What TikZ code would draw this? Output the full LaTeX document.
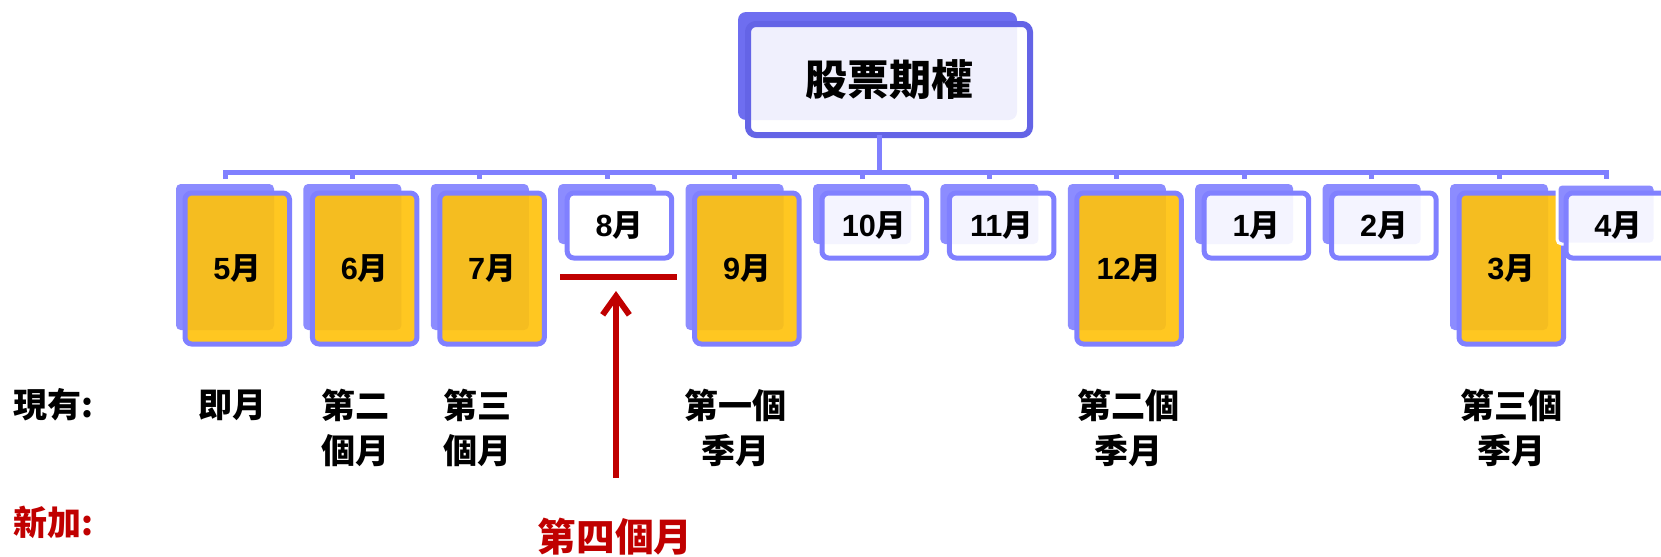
\documentclass[tikz,border=0pt]{standalone}
\usepackage{fontspec}
\setmainfont{Liberation Sans}
\newfontfamily\cjk{Noto Sans CJK TC}
\usetikzlibrary{arrows.meta}
\definecolor{lav}{RGB}{128,128,255}
\definecolor{lavback}{RGB}{140,140,255}
\definecolor{topline}{RGB}{100,100,230}
\definecolor{topback}{RGB}{110,110,240}
\definecolor{gold}{RGB}{255,194,14}
\definecolor{redc}{RGB}{192,0,0}
\newcommand{\yue}{{\cjk 月}}
\newcommand{\mymonthfont}{\bfseries\fontsize{23pt}{27pt}\selectfont}
\newcommand{\mylabelfont}{\cjk\bfseries\fontsize{25.5pt}{33.75pt}\selectfont}
\begin{document}
\begin{tikzpicture}[x=0.75pt,y=-0.75pt,
  backbox/.style={fill=lavback, rounded corners=3.5pt, inner sep=0pt, outer sep=0pt, anchor=north west, minimum width=73.5pt},
  tallback/.style={backbox, minimum height=109.5pt},
  shortback/.style={backbox, minimum height=45pt},
  frontbox/.style={draw=lav, line width=3.75pt, rounded corners=5pt, inner sep=0pt, outer sep=0pt, anchor=north west, minimum width=78.4pt, text=black, font=\mymonthfont},
  tallfront/.style={frontbox, minimum height=113.25pt, fill=gold, fill opacity=0.92, text opacity=1},
  shortfront/.style={frontbox, minimum height=48.75pt, fill=white, fill opacity=0.91, text opacity=1},
  whitefront/.style={frontbox, minimum height=48.75pt, fill=white},
  conn/.style={draw=lav, line width=3.75pt},
  lbl/.style={font=\mylabelfont, align=center, inner sep=0pt, text=black},
  redlbl/.style={lbl, text=redc}
]
\useasboundingbox (0,0) rectangle (1661,557);
\clip (0,0) rectangle (1661,557);

% top box
\node[fill=topback, rounded corners=6pt, inner sep=0pt, outer sep=0pt, anchor=north west, minimum width=209.25pt, minimum height=81pt] (tb) at (738,12) {};
\node[draw=topline, line width=4.5pt, fill=white, fill opacity=0.9, text opacity=1, rounded corners=6pt, inner sep=0pt, outer sep=0pt, anchor=north west, minimum width=211.5pt, minimum height=83.25pt, font=\cjk\bfseries\fontsize{31.5pt}{36pt}\selectfont] (tf) at (748,24) {股票期權};

% month boxes
\node[tallback] (b1) at (176,184) {};
\node[tallfront] (f1) at (185,193) {5\yue};
\node[tallback] (b2) at (303.4,184) {};
\node[tallfront] (f2) at (312.4,193) {6\yue};
\node[tallback] (b3) at (430.8,184) {};
\node[tallfront] (f3) at (439.8,193) {7\yue};
\node[shortback] (b4) at (558.2,184) {};
\node[whitefront] (f4) at (567.2,193) {8\yue};
\node[tallback] (b5) at (685.6,184) {};
\node[tallfront] (f5) at (694.6,193) {9\yue};
\node[shortback] (b6) at (813,184) {};
\node[shortfront] (f6) at (822,193) {10\yue};
\node[shortback] (b7) at (940.4,184) {};
\node[shortfront] (f7) at (949.4,193) {11\yue};
\node[tallback] (b8) at (1067.8,184) {};
\node[tallfront] (f8) at (1076.8,193) {12\yue};
\node[shortback] (b9) at (1195.2,184) {};
\node[shortfront] (f9) at (1204.2,193) {1\yue};
\node[shortback] (b10) at (1322.6,184) {};
\node[shortfront] (f10) at (1331.6,193) {2\yue};
\node[tallback] (b11) at (1450,184) {};
\node[tallfront] (f11) at (1459,193) {3\yue};
\node[shortback, draw=white, line width=2.25pt] (b12) at (1557,184) {};
\node[shortfront] (f12) at (1566,193) {4\yue};

% connectors
\coordinate (bus) at (879,172);
\draw[conn] (bus |- tf.south) -- (bus);
\draw[conn] ([yshift=3.75pt]b1.north) |- (bus) -| ([yshift=3.75pt]b12.north);
\foreach \k in {2,...,11} \draw[conn] ([yshift=3.75pt]b\k.north) -- (b\k.north |- bus);

% red marker and arrow
\coordinate (rl1) at (560,277);
\coordinate (rl2) at (677,277);
\draw[redc, line width=4.5pt] (rl1) -- (rl2);
\coordinate (arrtip) at (616,291);
\coordinate (arrbot) at (616,478);
\draw[redc, line width=4.5pt, -{Straight Barb[length=14pt, width=20pt]}] (arrbot) -- (arrtip);

% labels
\node[lbl, anchor=west] (xy) at (13,405) {現有:};
\node[redlbl, anchor=west] (xj) at (13,522) {新加:};
\node[lbl] (l1) at (232,405) {即月};
\node[lbl] (l2) at (355,427.5) {第二\\個月};
\node[lbl] (l3) at (477.5,427.5) {第三\\個月};
\node[lbl] (l5) at (735,427.5) {第一個\\季月};
\node[lbl] (l8) at (1128,427.5) {第二個\\季月};
\node[lbl] (l11) at (1511,427.5) {第三個\\季月};
\node[redlbl, font=\cjk\bfseries\fontsize{29pt}{34pt}\selectfont] (l4) at (615,537) {第四個月};
\end{tikzpicture}
\end{document}
